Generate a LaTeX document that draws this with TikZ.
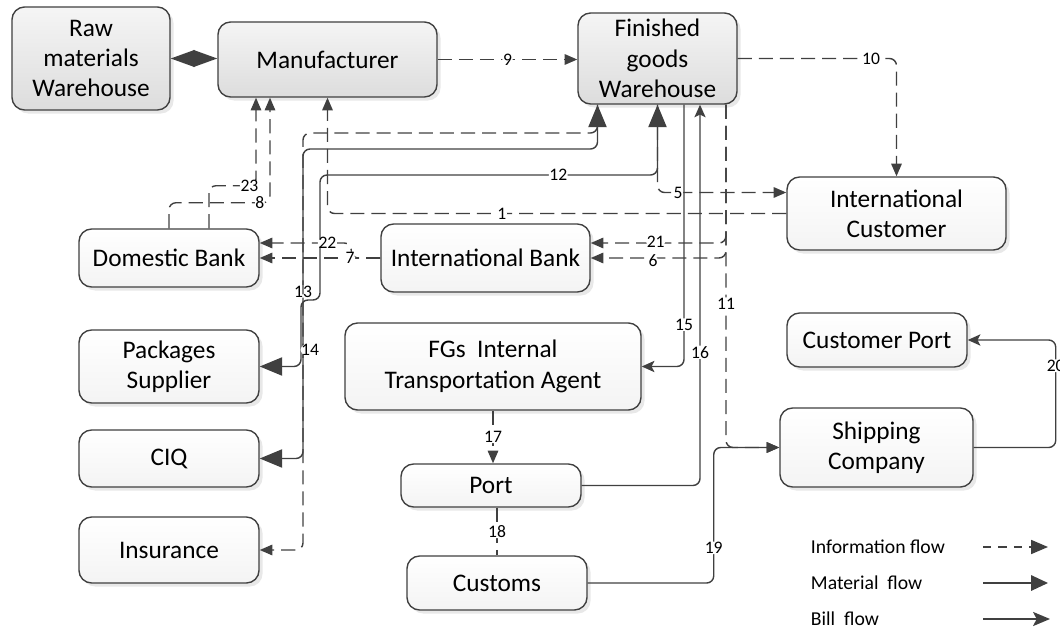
\documentclass[tikz,border=0pt]{standalone}
\usepackage{fontspec}
\setmainfont{Carlito}
\usetikzlibrary{arrows.meta, calc}
\usetikzlibrary{shadows}
\definecolor{linegray}{RGB}{64, 64, 64}
\newcommand{\boxfont}{\fontsize{18}{21.5}\selectfont}
\newcommand{\numfont}{\fontsize{12.5}{13}\selectfont}
\newcommand{\keyfont}{\fontsize{14}{15}\selectfont}
\tikzstyle{graybox} = [draw=linegray, line width=1pt, rounded corners=9pt,
    top color=gray!8, bottom color=gray!27, font=\boxfont, align=center,
    inner sep=0, drop shadow={opacity=0.18, shadow xshift=2.5pt, shadow yshift=-2.5pt}]
\tikzstyle{whitebox} = [graybox, top color=white, bottom color=gray!9]
\tikzstyle{num} = [fill=white, inner sep=0.4pt, font=\numfont]
\tikzstyle{info} = [draw=linegray, line width=1pt, dash pattern=on 10pt off 5pt,
    rounded corners=5pt, -{Triangle[length=9pt,width=7.5pt]}]
\tikzstyle{ship} = [draw=linegray, line width=1pt, rounded corners=5pt,
    -{Triangle[length=9pt,width=7.5pt]}]
\tikzstyle{material} = [draw=linegray, line width=1pt, rounded corners=5pt,
    {Triangle[length=16pt,width=13pt]}-{Triangle[length=16pt,width=13pt]}]
\tikzstyle{bill} = [draw=linegray, line width=1pt, rounded corners=5pt,
    -{Stealth[length=9pt,width=8pt,inset=2pt]}]

\begin{document}
\begin{tikzpicture}[x=0.025cm, y=-0.025cm]

\useasboundingbox (0,0) rectangle (1060,630);

%%% plants
\node[graybox, minimum width=3.95cm, minimum height=2.575cm] (raw) at (91,58.5) {Raw\\materials\\Warehouse};
\node[graybox, minimum width=5.475cm, minimum height=1.875cm] (mfr) at (327.5,59.5) {Manufacturer};
\node[graybox, minimum width=3.975cm, minimum height=2.275cm] (fgw) at (657.5,58.5) {Finished\\goods\\Warehouse};

%%% partners
\node[whitebox, minimum width=5.475cm, minimum height=1.825cm] (ic) at (896.5,213.5) {International\\Customer};
\node[whitebox, minimum width=4.5cm, minimum height=1.45cm] (db) at (169,258) {Domestic Bank};
\node[whitebox, minimum width=5.225cm, minimum height=1.7cm] (ib) at (485.5,258) {International Bank};
\node[whitebox, minimum width=4.5cm, minimum height=1.825cm] (pkg) at (169,366.5) {Packages\\Supplier};
\node[whitebox, minimum width=4.5cm, minimum height=1.425cm] (ciq) at (169,458.5) {CIQ};
\node[whitebox, minimum width=4.5cm, minimum height=1.65cm] (ins) at (169,550) {Insurance};
\node[whitebox, minimum width=7.4cm, minimum height=2.175cm] (ita) at (493,366.5) {FGs\ \ Internal\\Transportation Agent};
\node[whitebox, minimum width=4.5cm, minimum height=1.075cm] (port) at (491,485.5) {Port};
\node[whitebox, minimum width=4.5cm, minimum height=1.35cm] (cus) at (497,583) {Customs};
\node[whitebox, minimum width=4.5cm, minimum height=1.35cm] (cp) at (877,340) {Customer Port};
\node[whitebox, minimum width=4.825cm, minimum height=1.975cm] (sc) at (876.5,447.5) {Shipping\\Company};


%%% material flow
\draw[draw=linegray, line width=1pt, {Triangle[length=17pt,width=12pt]}-{Triangle[length=17pt,width=12pt]}] (raw.east) -- (raw.east -| mfr.west);
\draw[material] (fgw.south) |- node[num, pos=0.647] {12} (320,175) |- (301,300) |- (pkg.east);
\draw[material] ($(fgw.south)+(-60,0)$) |- (303,149) |- node[num, pos=0.23] {13} (ciq.east);

%%% information flow
\draw[info] (mfr.east) -- node[num] {9} (mfr.east -| fgw.west);
\draw[info] (fgw.east) -| node[num, pos=0.42] {10} (ic.north);
\draw[info] (ic.west) -| node[num, pos=0.31] {1} (mfr.south);
\draw[info] (fgw.south) |- node[num, pos=0.58] {5} ($(ic.west)+(0,-21)$);
\draw[info] ($(fgw.south)+(-60,0)$) |- (303,133) |- node[num, pos=0.26, xshift=5pt] {14} (ins.east);
\draw[info] ($(db.north)+(40,0)$) |- node[num, pos=0.93] {23} ($(mfr.south)+(-71.5,88)$) -- ($(mfr.south)+(-71.5,0)$);
\draw[info] (db.north) |- node[num, pos=0.95] {8} ($(mfr.south)+(-57.5,105)$) -- ($(mfr.south)+(-57.5,0)$);
\draw[info] (ib.west) -- ++(-29,0) |- node[num, pos=0.63] {22} ($(db.east)+(0,-15)$);
\draw[info] (ib.west) -- node[num, pos=0.25] {7} (db.east);
\draw[info] ($(fgw.south)+(68.5,0)$) |- node[num, pos=0.76, yshift=1pt] {21} ($(ib.east)+(0,-15)$);
\draw[info] ($(fgw.south)+(68.5,0)$) |- node[num, pos=0.77, yshift=-2pt] {6} (ib.east);
\draw[info] ($(fgw.south)+(68.5,0)$) |- node[num, pos=0.29] {11} (sc.west);
\draw[info] (ita.south) -- node[num] {17} (ita.south |- port.north);
\draw[info, -] (cus.north |- port.south) -- node[num] {18} (cus.north);

%%% bill flow
\draw[bill] ($(fgw.south)+(26.5,0)$) |- node[num, pos=0.42] {15} (ita.east);
\draw[bill] (port.east) -| node[num, pos=0.675] {16} ($(fgw.south)+(42.5,0)$);
\draw[ship] (cus.east) -- ++(126,0) |- node[num, pos=0.13] {19} (sc.west);
\draw[bill] (sc.east) -- ++(82,0) |- node[num, pos=0.38] {20} (cp.east);


%%% legend
\node[anchor=west, font=\keyfont] (kinfo) at (806,547) {Information flow};
\node[anchor=west, font=\keyfont] (kmat) at (806,583) {Material\ \ flow};
\node[anchor=west, font=\keyfont] (kbill) at (806,619) {Bill\ \ flow};
\coordinate (kinfoa) at (983,547);
\coordinate (kinfob) at (1048,547);
\coordinate (kmata) at (983,583);
\coordinate (kmatb) at (1048,583);
\coordinate (kbilla) at (983,619);
\coordinate (kbillb) at (1050,619);
\draw[info, dash pattern=on 6pt off 5pt, -{Triangle[length=12pt,width=10pt]}] (kinfoa) -- (kinfob);
\draw[ship, -{Triangle[length=12pt,width=11pt]}] (kmata) -- (kmatb);
\draw[bill, -{Stealth[length=12pt,width=10pt,inset=2.5pt]}] (kbilla) -- (kbillb);

\end{tikzpicture}
\end{document}
